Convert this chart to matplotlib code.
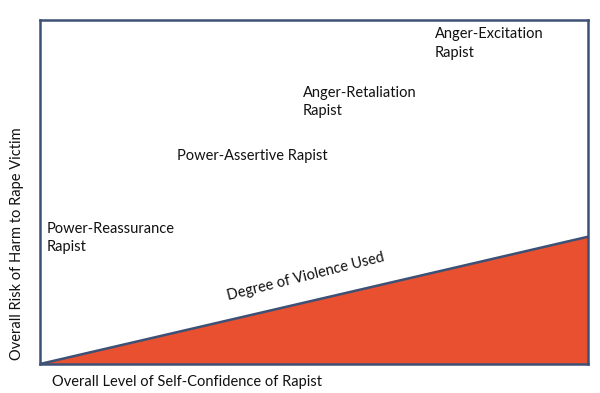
import matplotlib.pyplot as plt

plt.rcParams['font.family'] = ['Lato', 'DejaVu Sans']

# data
confidence = [0.0, 1.0]
violence = [0.0, 0.37]
labels = ['Power-Reassurance\nRapist', 'Power-Assertive Rapist',
          'Anger-Retaliation\nRapist', 'Anger-Excitation\nRapist']
label_x = [0.013, 0.250, 0.480, 0.721]
label_y = [0.414, 0.624, 0.808, 0.979]

frame = '#3d5075'
red = '#e85030'

fig = plt.figure(figsize=(6, 3.93), dpi=100)
ax = fig.add_axes([40 / 600, 29 / 393, 548 / 600, 344 / 393])
ax.set_xlim(0, 1)
ax.set_ylim(0, 1)
ax.set_xticks([])
ax.set_yticks([])
for s in ax.spines.values():
    s.set_color(frame)
    s.set_linewidth(1.8)

ax.fill_between(confidence, 0, violence, color=red, lw=0)
ax.plot(confidence, violence, color=frame, lw=1.8)

for t, x, y in zip(labels, label_x, label_y):
    ax.text(x, y, t, ha='left', va='top', fontsize=10.5, linespacing=1.4, color='#111111')

ax.text(0.485, 0.255, 'Degree of Violence Used', rotation=14, ha='center', va='center',
        fontsize=10.5, color='#111111', rotation_mode='anchor')

fig.text(52 / 600, 1 - 382 / 393, 'Overall Level of Self-Confidence of Rapist',
         ha='left', va='center', fontsize=10.5, color='#111111')
fig.text(17 / 600, 1 - 244 / 393, 'Overall Risk of Harm to Rape Victim',
         ha='center', va='center', rotation=90, fontsize=10.5, color='#111111')

fig.savefig('out.png', dpi=100)
